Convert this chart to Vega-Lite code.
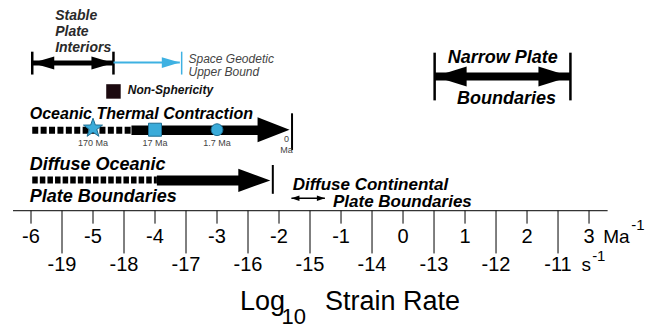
{
  "$schema": "https://vega.github.io/schema/vega-lite/v6.json",
  "width": 647,
  "height": 328,
  "autosize": {"type": "fit", "contains": "padding"},
  "padding": 0,
  "background": "white",
  "config": {"view": {"stroke": null}},
  "layer": [
    {
      "layer": [
        {
          "data": {"values": [{"lo": -6.29, "hi": 3.3}]},
          "mark": {"type": "rule", "color": "black", "strokeWidth": 1},
          "encoding": {
            "x": {"field": "lo", "type": "quantitative", "scale": {"domain": [-6.5, 3.935], "nice": false, "zero": false}, "axis": null},
            "x2": {"field": "hi"},
            "y": {"datum": 212, "type": "quantitative", "scale": {"domain": [0, 328], "reverse": true, "nice": false, "zero": false}, "axis": null}
          }
        },
        {
          "data": {"values": [
            {"ma": -6, "label": "-6"}, {"ma": -5, "label": "-5"}, {"ma": -4, "label": "-4"},
            {"ma": -3, "label": "-3"}, {"ma": -2, "label": "-2"}, {"ma": -1, "label": "-1"},
            {"ma": 0, "label": "0"}, {"ma": 1, "label": "1"}, {"ma": 2, "label": "2"}, {"ma": 3, "label": "3"}
          ]},
          "layer": [
            {
              "mark": {"type": "rule", "color": "black", "strokeWidth": 1},
              "encoding": {
                "x": {"field": "ma", "type": "quantitative", "scale": {"domain": [-6.5, 3.935], "nice": false, "zero": false}, "axis": null},
                "y": {"datum": 212, "type": "quantitative", "scale": {"domain": [0, 328], "reverse": true, "nice": false, "zero": false}, "axis": null},
                "y2": {"datum": 225}
              }
            },
            {
              "mark": {"type": "text", "font": "Liberation Sans", "fontSize": 20, "color": "black", "align": "center", "baseline": "middle"},
              "encoding": {
                "x": {"field": "ma", "type": "quantitative", "scale": {"domain": [-6.5, 3.935], "nice": false, "zero": false}, "axis": null},
                "y": {"datum": 238, "type": "quantitative", "scale": {"domain": [0, 328], "reverse": true, "nice": false, "zero": false}, "axis": null},
                "text": {"field": "label"}
              }
            }
          ]
        },
        {
          "data": {"values": [
            {"rate": 3.23, "row": 238, "label": "Ma"},
            {"rate": 2.88, "row": 267, "label": "s"}
          ]},
          "mark": {"type": "text", "font": "Liberation Sans", "fontSize": 19, "color": "black", "align": "left", "baseline": "middle"},
          "encoding": {
            "x": {"field": "rate", "type": "quantitative", "scale": {"domain": [-6.5, 3.935], "nice": false, "zero": false}, "axis": null},
            "y": {"field": "row", "type": "quantitative", "scale": {"domain": [0, 328], "reverse": true, "nice": false, "zero": false}, "axis": null},
            "text": {"field": "label"}
          }
        },
        {
          "data": {"values": [
            {"rate": 3.68, "row": 226, "label": "-1"},
            {"rate": 3.05, "row": 258, "label": "-1"}
          ]},
          "mark": {"type": "text", "font": "Liberation Sans", "fontSize": 15, "color": "black", "align": "left", "baseline": "middle"},
          "encoding": {
            "x": {"field": "rate", "type": "quantitative", "scale": {"domain": [-6.5, 3.935], "nice": false, "zero": false}, "axis": null},
            "y": {"field": "row", "type": "quantitative", "scale": {"domain": [0, 328], "reverse": true, "nice": false, "zero": false}, "axis": null},
            "text": {"field": "label"}
          }
        },
        {
          "data": {"values": [
            {"rate": -2.63, "label": "Log"},
            {"rate": -1.26, "label": "Strain Rate"}
          ]},
          "mark": {"type": "text", "font": "Liberation Sans", "fontSize": 27, "color": "black", "align": "left", "baseline": "alphabetic"},
          "encoding": {
            "x": {"field": "rate", "type": "quantitative", "scale": {"domain": [-6.5, 3.935], "nice": false, "zero": false}, "axis": null},
            "y": {"datum": 312, "type": "quantitative", "scale": {"domain": [0, 328], "reverse": true, "nice": false, "zero": false}, "axis": null},
            "text": {"field": "label"}
          }
        },
        {
          "data": {"values": [{"rate": -1.96, "label": "10"}]},
          "mark": {"type": "text", "font": "Liberation Sans", "fontSize": 22, "color": "black", "align": "left", "baseline": "alphabetic"},
          "encoding": {
            "x": {"field": "rate", "type": "quantitative", "scale": {"domain": [-6.5, 3.935], "nice": false, "zero": false}, "axis": null},
            "y": {"datum": 326, "type": "quantitative", "scale": {"domain": [0, 328], "reverse": true, "nice": false, "zero": false}, "axis": null},
            "text": {"field": "label"}
          }
        },
        {
          "data": {"values": [{"lo": -5.98, "hi": -4.67}]},
          "layer": [
            {
              "mark": {"type": "rule", "color": "black", "strokeWidth": 2.5},
              "encoding": {
                "x": {"field": "lo", "type": "quantitative", "scale": {"domain": [-6.5, 3.935], "nice": false, "zero": false}, "axis": null},
                "y": {"datum": 52, "type": "quantitative", "scale": {"domain": [0, 328], "reverse": true, "nice": false, "zero": false}, "axis": null},
                "y2": {"datum": 75}
              }
            },
            {
              "mark": {"type": "rule", "color": "black", "strokeWidth": 2.5},
              "encoding": {
                "x": {"field": "hi", "type": "quantitative", "scale": {"domain": [-6.5, 3.935], "nice": false, "zero": false}, "axis": null},
                "y": {"datum": 52, "type": "quantitative", "scale": {"domain": [0, 328], "reverse": true, "nice": false, "zero": false}, "axis": null},
                "y2": {"datum": 75}
              }
            },
            {
              "mark": {"type": "rule", "color": "black", "strokeWidth": 5},
              "encoding": {
                "x": {"field": "lo", "type": "quantitative", "scale": {"domain": [-6.5, 3.935], "nice": false, "zero": false}, "axis": null},
                "x2": {"field": "hi"},
                "y": {"datum": 63.5, "type": "quantitative", "scale": {"domain": [0, 328], "reverse": true, "nice": false, "zero": false}, "axis": null}
              }
            },
            {
              "mark": {"type": "point", "shape": "M0,0L2,-0.59L2,0.59Z", "size": 484, "filled": true, "opacity": 1, "color": "black", "strokeWidth": 0},
              "encoding": {
                "x": {"field": "lo", "type": "quantitative", "scale": {"domain": [-6.5, 3.935], "nice": false, "zero": false}, "axis": null},
                "y": {"datum": 63.5, "type": "quantitative", "scale": {"domain": [0, 328], "reverse": true, "nice": false, "zero": false}, "axis": null}
              }
            },
            {
              "mark": {"type": "point", "shape": "M0,0L-2,-0.59L-2,0.59Z", "size": 484, "filled": true, "opacity": 1, "color": "black", "strokeWidth": 0},
              "encoding": {
                "x": {"field": "hi", "type": "quantitative", "scale": {"domain": [-6.5, 3.935], "nice": false, "zero": false}, "axis": null},
                "y": {"datum": 63.5, "type": "quantitative", "scale": {"domain": [0, 328], "reverse": true, "nice": false, "zero": false}, "axis": null}
              }
            }
          ]
        },
        {
          "data": {"values": [{"lo": -4.67, "hi": -3.6, "bound": -3.57}]},
          "layer": [
            {
              "mark": {"type": "rule", "color": "#3eb1e2", "strokeWidth": 2},
              "encoding": {
                "x": {"field": "lo", "type": "quantitative", "scale": {"domain": [-6.5, 3.935], "nice": false, "zero": false}, "axis": null},
                "x2": {"field": "hi"},
                "y": {"datum": 63, "type": "quantitative", "scale": {"domain": [0, 328], "reverse": true, "nice": false, "zero": false}, "axis": null}
              }
            },
            {
              "mark": {"type": "point", "shape": "M0,0L-2,-0.61L-2,0.61Z", "size": 324, "filled": true, "opacity": 1, "color": "#3eb1e2", "strokeWidth": 0},
              "encoding": {
                "x": {"field": "hi", "type": "quantitative", "scale": {"domain": [-6.5, 3.935], "nice": false, "zero": false}, "axis": null},
                "y": {"datum": 63, "type": "quantitative", "scale": {"domain": [0, 328], "reverse": true, "nice": false, "zero": false}, "axis": null}
              }
            },
            {
              "mark": {"type": "rule", "color": "#3eb1e2", "strokeWidth": 1.5},
              "encoding": {
                "x": {"field": "bound", "type": "quantitative", "scale": {"domain": [-6.5, 3.935], "nice": false, "zero": false}, "axis": null},
                "y": {"datum": 52, "type": "quantitative", "scale": {"domain": [0, 328], "reverse": true, "nice": false, "zero": false}, "axis": null},
                "y2": {"datum": 75}
              }
            }
          ]
        },
        {
          "data": {"values": [{"rate": -4.67}]},
          "mark": {"type": "point", "shape": "square", "size": 210, "filled": true, "opacity": 1, "color": "#1c0a10", "strokeWidth": 0},
          "encoding": {
            "x": {"field": "rate", "type": "quantitative", "scale": {"domain": [-6.5, 3.935], "nice": false, "zero": false}, "axis": null},
            "y": {"datum": 92, "type": "quantitative", "scale": {"domain": [0, 328], "reverse": true, "nice": false, "zero": false}, "axis": null}
          }
        },
        {
          "data": {"values": [{"lo": -5.98, "mid": -4.38, "base": -2.3, "tip": -1.83, "end": -1.79}]},
          "layer": [
            {
              "mark": {"type": "rule", "color": "black", "strokeWidth": 7, "strokeDash": [6, 2.4]},
              "encoding": {
                "x": {"field": "lo", "type": "quantitative", "scale": {"domain": [-6.5, 3.935], "nice": false, "zero": false}, "axis": null},
                "x2": {"field": "mid"},
                "y": {"datum": 131, "type": "quantitative", "scale": {"domain": [0, 328], "reverse": true, "nice": false, "zero": false}, "axis": null}
              }
            },
            {
              "mark": {"type": "rule", "color": "black", "strokeWidth": 9.5},
              "encoding": {
                "x": {"field": "mid", "type": "quantitative", "scale": {"domain": [-6.5, 3.935], "nice": false, "zero": false}, "axis": null},
                "x2": {"field": "base"},
                "y": {"datum": 131, "type": "quantitative", "scale": {"domain": [0, 328], "reverse": true, "nice": false, "zero": false}, "axis": null}
              }
            },
            {
              "mark": {"type": "point", "shape": "M0,0L-2,-0.78L-2,0.78Z", "size": 1024, "filled": true, "opacity": 1, "color": "black", "strokeWidth": 0},
              "encoding": {
                "x": {"field": "tip", "type": "quantitative", "scale": {"domain": [-6.5, 3.935], "nice": false, "zero": false}, "axis": null},
                "y": {"datum": 130.5, "type": "quantitative", "scale": {"domain": [0, 328], "reverse": true, "nice": false, "zero": false}, "axis": null}
              }
            },
            {
              "mark": {"type": "rule", "color": "black", "strokeWidth": 2},
              "encoding": {
                "x": {"field": "end", "type": "quantitative", "scale": {"domain": [-6.5, 3.935], "nice": false, "zero": false}, "axis": null},
                "y": {"datum": 114, "type": "quantitative", "scale": {"domain": [0, 328], "reverse": true, "nice": false, "zero": false}, "axis": null},
                "y2": {"datum": 151}
              }
            }
          ]
        },
        {
          "data": {"values": [{"rate": -5, "age": "170 Ma"}]},
          "mark": {"type": "point", "shape": "M0,-1L0.235,-0.324L0.951,-0.309L0.38,0.124L0.588,0.809L0,0.4L-0.588,0.809L-0.38,0.124L-0.951,-0.309L-0.235,-0.324Z", "size": 400, "filled": true, "opacity": 1, "color": "#3aabd9", "stroke": "#1d6e93", "strokeWidth": 1},
          "encoding": {
            "x": {"field": "rate", "type": "quantitative", "scale": {"domain": [-6.5, 3.935], "nice": false, "zero": false}, "axis": null},
            "y": {"datum": 129, "type": "quantitative", "scale": {"domain": [0, 328], "reverse": true, "nice": false, "zero": false}, "axis": null}
          }
        },
        {
          "data": {"values": [{"rate": -4, "age": "17 Ma"}]},
          "mark": {"type": "point", "shape": "square", "size": 169, "filled": true, "opacity": 1, "color": "#3aabd9", "stroke": "#1d6e93", "strokeWidth": 1},
          "encoding": {
            "x": {"field": "rate", "type": "quantitative", "scale": {"domain": [-6.5, 3.935], "nice": false, "zero": false}, "axis": null},
            "y": {"datum": 130.5, "type": "quantitative", "scale": {"domain": [0, 328], "reverse": true, "nice": false, "zero": false}, "axis": null}
          }
        },
        {
          "data": {"values": [{"rate": -3, "age": "1.7 Ma"}]},
          "mark": {"type": "point", "shape": "circle", "size": 140, "filled": true, "opacity": 1, "color": "#3aabd9", "stroke": "#1d6e93", "strokeWidth": 1},
          "encoding": {
            "x": {"field": "rate", "type": "quantitative", "scale": {"domain": [-6.5, 3.935], "nice": false, "zero": false}, "axis": null},
            "y": {"datum": 130.5, "type": "quantitative", "scale": {"domain": [0, 328], "reverse": true, "nice": false, "zero": false}, "axis": null}
          }
        },
        {
          "data": {"values": [
            {"rate": -5, "age": "170 Ma"},
            {"rate": -4, "age": "17 Ma"},
            {"rate": -3, "age": "1.7 Ma"}
          ]},
          "mark": {"type": "text", "font": "Liberation Sans", "fontSize": 9, "color": "#444444", "align": "center", "baseline": "middle"},
          "encoding": {
            "x": {"field": "rate", "type": "quantitative", "scale": {"domain": [-6.5, 3.935], "nice": false, "zero": false}, "axis": null},
            "y": {"datum": 144, "type": "quantitative", "scale": {"domain": [0, 328], "reverse": true, "nice": false, "zero": false}, "axis": null},
            "text": {"field": "age"}
          }
        },
        {
          "data": {"values": [{"rate": -1.88, "row": 140, "label": "0"}, {"rate": -1.88, "row": 151, "label": "Ma"}]},
          "mark": {"type": "text", "font": "Liberation Sans", "fontSize": 9, "color": "#444444", "align": "center", "baseline": "middle"},
          "encoding": {
            "x": {"field": "rate", "type": "quantitative", "scale": {"domain": [-6.5, 3.935], "nice": false, "zero": false}, "axis": null},
            "y": {"field": "row", "type": "quantitative", "scale": {"domain": [0, 328], "reverse": true, "nice": false, "zero": false}, "axis": null},
            "text": {"field": "label"}
          }
        },
        {
          "data": {"values": [{"lo": -5.98, "mid": -3.97, "base": -2.55, "tip": -2.14, "end": -2.1}]},
          "layer": [
            {
              "mark": {"type": "rule", "color": "black", "strokeWidth": 7, "strokeDash": [5.5, 2.1]},
              "encoding": {
                "x": {"field": "lo", "type": "quantitative", "scale": {"domain": [-6.5, 3.935], "nice": false, "zero": false}, "axis": null},
                "x2": {"field": "mid"},
                "y": {"datum": 181, "type": "quantitative", "scale": {"domain": [0, 328], "reverse": true, "nice": false, "zero": false}, "axis": null}
              }
            },
            {
              "mark": {"type": "rule", "color": "black", "strokeWidth": 10},
              "encoding": {
                "x": {"field": "mid", "type": "quantitative", "scale": {"domain": [-6.5, 3.935], "nice": false, "zero": false}, "axis": null},
                "x2": {"field": "base"},
                "y": {"datum": 181.5, "type": "quantitative", "scale": {"domain": [0, 328], "reverse": true, "nice": false, "zero": false}, "axis": null}
              }
            },
            {
              "mark": {"type": "point", "shape": "M0,0L-2,-0.72L-2,0.72Z", "size": 1024, "filled": true, "opacity": 1, "color": "black", "strokeWidth": 0},
              "encoding": {
                "x": {"field": "tip", "type": "quantitative", "scale": {"domain": [-6.5, 3.935], "nice": false, "zero": false}, "axis": null},
                "y": {"datum": 181.5, "type": "quantitative", "scale": {"domain": [0, 328], "reverse": true, "nice": false, "zero": false}, "axis": null}
              }
            },
            {
              "mark": {"type": "rule", "color": "black", "strokeWidth": 2},
              "encoding": {
                "x": {"field": "end", "type": "quantitative", "scale": {"domain": [-6.5, 3.935], "nice": false, "zero": false}, "axis": null},
                "y": {"datum": 166, "type": "quantitative", "scale": {"domain": [0, 328], "reverse": true, "nice": false, "zero": false}, "axis": null},
                "y2": {"datum": 195}
              }
            }
          ]
        },
        {
          "data": {"values": [{"lo": -1.8, "hi": -1.26}]},
          "layer": [
            {
              "mark": {"type": "rule", "color": "black", "strokeWidth": 1.5},
              "encoding": {
                "x": {"field": "lo", "type": "quantitative", "scale": {"domain": [-6.5, 3.935], "nice": false, "zero": false}, "axis": null},
                "x2": {"field": "hi"},
                "y": {"datum": 199.5, "type": "quantitative", "scale": {"domain": [0, 328], "reverse": true, "nice": false, "zero": false}, "axis": null}
              }
            },
            {
              "mark": {"type": "point", "shape": "M0,0L2,-0.7L2,0.7Z", "size": 64, "filled": true, "opacity": 1, "color": "black", "strokeWidth": 0},
              "encoding": {
                "x": {"field": "lo", "type": "quantitative", "scale": {"domain": [-6.5, 3.935], "nice": false, "zero": false}, "axis": null},
                "y": {"datum": 199.5, "type": "quantitative", "scale": {"domain": [0, 328], "reverse": true, "nice": false, "zero": false}, "axis": null}
              }
            },
            {
              "mark": {"type": "point", "shape": "M0,0L-2,-0.7L-2,0.7Z", "size": 64, "filled": true, "opacity": 1, "color": "black", "strokeWidth": 0},
              "encoding": {
                "x": {"field": "hi", "type": "quantitative", "scale": {"domain": [-6.5, 3.935], "nice": false, "zero": false}, "axis": null},
                "y": {"datum": 199.5, "type": "quantitative", "scale": {"domain": [0, 328], "reverse": true, "nice": false, "zero": false}, "axis": null}
              }
            }
          ]
        },
        {
          "data": {"values": [{"lo": 0.51, "hi": 2.7}]},
          "layer": [
            {
              "mark": {"type": "rule", "color": "black", "strokeWidth": 2.5},
              "encoding": {
                "x": {"field": "lo", "type": "quantitative", "scale": {"domain": [-6.5, 3.935], "nice": false, "zero": false}, "axis": null},
                "y": {"datum": 53, "type": "quantitative", "scale": {"domain": [0, 328], "reverse": true, "nice": false, "zero": false}, "axis": null},
                "y2": {"datum": 101}
              }
            },
            {
              "mark": {"type": "rule", "color": "black", "strokeWidth": 2.5},
              "encoding": {
                "x": {"field": "hi", "type": "quantitative", "scale": {"domain": [-6.5, 3.935], "nice": false, "zero": false}, "axis": null},
                "y": {"datum": 53, "type": "quantitative", "scale": {"domain": [0, 328], "reverse": true, "nice": false, "zero": false}, "axis": null},
                "y2": {"datum": 101}
              }
            },
            {
              "mark": {"type": "rule", "color": "black", "strokeWidth": 8},
              "encoding": {
                "x": {"field": "lo", "type": "quantitative", "scale": {"domain": [-6.5, 3.935], "nice": false, "zero": false}, "axis": null},
                "x2": {"field": "hi"},
                "y": {"datum": 77, "type": "quantitative", "scale": {"domain": [0, 328], "reverse": true, "nice": false, "zero": false}, "axis": null}
              }
            },
            {
              "mark": {"type": "point", "shape": "M0,0L2,-0.625L2,0.625Z", "size": 1024, "filled": true, "opacity": 1, "color": "black", "strokeWidth": 0},
              "encoding": {
                "x": {"field": "lo", "type": "quantitative", "scale": {"domain": [-6.5, 3.935], "nice": false, "zero": false}, "axis": null},
                "y": {"datum": 77, "type": "quantitative", "scale": {"domain": [0, 328], "reverse": true, "nice": false, "zero": false}, "axis": null}
              }
            },
            {
              "mark": {"type": "point", "shape": "M0,0L-2,-0.625L-2,0.625Z", "size": 1024, "filled": true, "opacity": 1, "color": "black", "strokeWidth": 0},
              "encoding": {
                "x": {"field": "hi", "type": "quantitative", "scale": {"domain": [-6.5, 3.935], "nice": false, "zero": false}, "axis": null},
                "y": {"datum": 77, "type": "quantitative", "scale": {"domain": [0, 328], "reverse": true, "nice": false, "zero": false}, "axis": null}
              }
            }
          ]
        },
        {
          "data": {"values": [
            {"rate": -5.61, "row": 16, "label": "Stable"},
            {"rate": -5.61, "row": 32, "label": "Plate"},
            {"rate": -5.61, "row": 48, "label": "Interiors"}
          ]},
          "mark": {"type": "text", "font": "Liberation Sans", "fontStyle": "italic", "fontWeight": "bold", "fontSize": 14, "color": "#2a2a2a", "align": "left", "baseline": "middle"},
          "encoding": {
            "x": {"field": "rate", "type": "quantitative", "scale": {"domain": [-6.5, 3.935], "nice": false, "zero": false}, "axis": null},
            "y": {"field": "row", "type": "quantitative", "scale": {"domain": [0, 328], "reverse": true, "nice": false, "zero": false}, "axis": null},
            "text": {"field": "label"}
          }
        },
        {
          "data": {"values": [{"rate": -4.44, "label": "Non-Sphericity"}]},
          "mark": {"type": "text", "font": "Liberation Sans", "fontStyle": "italic", "fontWeight": "bold", "fontSize": 12, "color": "#111111", "align": "left", "baseline": "middle"},
          "encoding": {
            "x": {"field": "rate", "type": "quantitative", "scale": {"domain": [-6.5, 3.935], "nice": false, "zero": false}, "axis": null},
            "y": {"datum": 91, "type": "quantitative", "scale": {"domain": [0, 328], "reverse": true, "nice": false, "zero": false}, "axis": null},
            "text": {"field": "label"}
          }
        },
        {
          "data": {"values": [{"rate": -6.02, "label": "Oceanic Thermal Contraction"}]},
          "mark": {"type": "text", "font": "Liberation Sans", "fontStyle": "italic", "fontWeight": "bold", "fontSize": 16, "color": "black", "align": "left", "baseline": "middle"},
          "encoding": {
            "x": {"field": "rate", "type": "quantitative", "scale": {"domain": [-6.5, 3.935], "nice": false, "zero": false}, "axis": null},
            "y": {"datum": 115, "type": "quantitative", "scale": {"domain": [0, 328], "reverse": true, "nice": false, "zero": false}, "axis": null},
            "text": {"field": "label"}
          }
        },
        {
          "data": {"values": [
            {"rate": -6.02, "row": 166, "label": "Diffuse Oceanic"},
            {"rate": -6.02, "row": 198, "label": "Plate Boundaries"}
          ]},
          "mark": {"type": "text", "font": "Liberation Sans", "fontStyle": "italic", "fontWeight": "bold", "fontSize": 18, "color": "black", "align": "left", "baseline": "middle"},
          "encoding": {
            "x": {"field": "rate", "type": "quantitative", "scale": {"domain": [-6.5, 3.935], "nice": false, "zero": false}, "axis": null},
            "y": {"field": "row", "type": "quantitative", "scale": {"domain": [0, 328], "reverse": true, "nice": false, "zero": false}, "axis": null},
            "text": {"field": "label"}
          }
        },
        {
          "data": {"values": [
            {"rate": -1.78, "row": 186, "label": "Diffuse Continental"},
            {"rate": -1.13, "row": 203, "label": "Plate Boundaries"}
          ]},
          "mark": {"type": "text", "font": "Liberation Sans", "fontStyle": "italic", "fontWeight": "bold", "fontSize": 17, "color": "black", "align": "left", "baseline": "middle"},
          "encoding": {
            "x": {"field": "rate", "type": "quantitative", "scale": {"domain": [-6.5, 3.935], "nice": false, "zero": false}, "axis": null},
            "y": {"field": "row", "type": "quantitative", "scale": {"domain": [0, 328], "reverse": true, "nice": false, "zero": false}, "axis": null},
            "text": {"field": "label"}
          }
        },
        {
          "data": {"values": [
            {"rate": 1.61, "row": 58, "label": "Narrow Plate"},
            {"rate": 1.67, "row": 100, "label": "Boundaries"}
          ]},
          "mark": {"type": "text", "font": "Liberation Sans", "fontStyle": "italic", "fontWeight": "bold", "fontSize": 18, "color": "black", "align": "center", "baseline": "middle"},
          "encoding": {
            "x": {"field": "rate", "type": "quantitative", "scale": {"domain": [-6.5, 3.935], "nice": false, "zero": false}, "axis": null},
            "y": {"field": "row", "type": "quantitative", "scale": {"domain": [0, 328], "reverse": true, "nice": false, "zero": false}, "axis": null},
            "text": {"field": "label"}
          }
        },
        {
          "data": {"values": [
            {"rate": -3.46, "row": 59, "label": "Space Geodetic"},
            {"rate": -3.46, "row": 72, "label": "Upper Bound"}
          ]},
          "mark": {"type": "text", "font": "Liberation Sans", "fontStyle": "italic", "fontSize": 12, "color": "#444444", "align": "left", "baseline": "middle"},
          "encoding": {
            "x": {"field": "rate", "type": "quantitative", "scale": {"domain": [-6.5, 3.935], "nice": false, "zero": false}, "axis": null},
            "y": {"field": "row", "type": "quantitative", "scale": {"domain": [0, 328], "reverse": true, "nice": false, "zero": false}, "axis": null},
            "text": {"field": "label"}
          }
        }
      ]
    },
    {
      "data": {"values": [
        {"s": -19, "label": "-19"}, {"s": -18, "label": "-18"}, {"s": -17, "label": "-17"},
        {"s": -16, "label": "-16"}, {"s": -15, "label": "-15"}, {"s": -14, "label": "-14"},
        {"s": -13, "label": "-13"}, {"s": -12, "label": "-12"}, {"s": -11, "label": "-11"}
      ]},
      "layer": [
        {
          "mark": {"type": "rule", "color": "black", "strokeWidth": 1},
          "encoding": {
            "x": {"field": "s", "type": "quantitative", "scale": {"domain": [-20, -9.565], "nice": false, "zero": false}, "axis": null},
            "y": {"datum": 212, "type": "quantitative", "scale": {"domain": [0, 328], "reverse": true, "nice": false, "zero": false}, "axis": null},
            "y2": {"datum": 255}
          }
        },
        {
          "mark": {"type": "text", "font": "Liberation Sans", "fontSize": 20, "color": "black", "align": "center", "baseline": "middle"},
          "encoding": {
            "x": {"field": "s", "type": "quantitative", "scale": {"domain": [-20, -9.565], "nice": false, "zero": false}, "axis": null},
            "y": {"datum": 267, "type": "quantitative", "scale": {"domain": [0, 328], "reverse": true, "nice": false, "zero": false}, "axis": null},
            "text": {"field": "label"}
          }
        }
      ]
    }
  ],
  "resolve": {"scale": {"x": "independent"}}
}
